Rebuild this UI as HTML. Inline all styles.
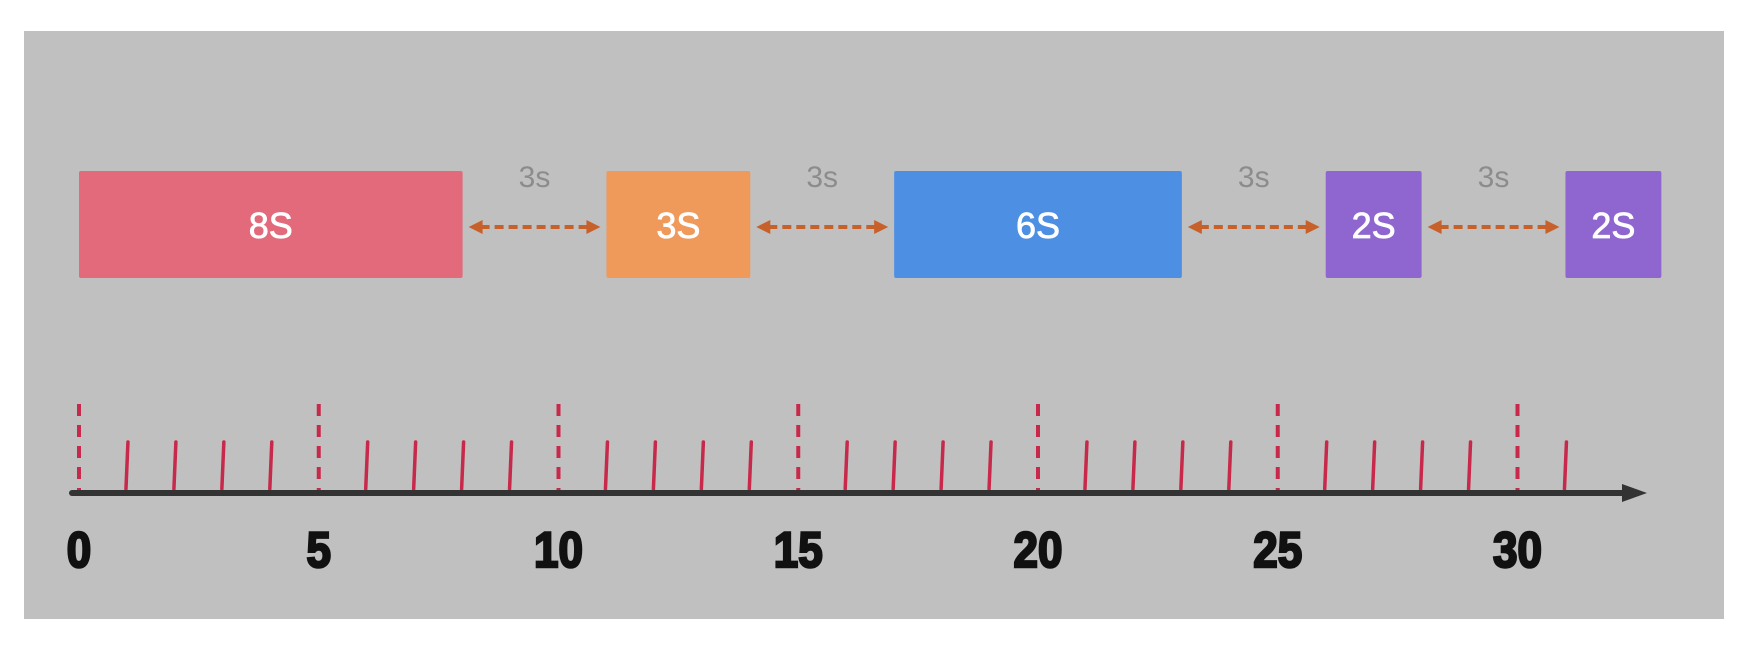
<!DOCTYPE html>
<html><head><meta charset="utf-8"><style>
html,body{margin:0;padding:0;background:#fff;width:1750px;height:646px;overflow:hidden}
svg{display:block}
</style></head><body>
<svg id="chart" width="1750" height="646" xmlns="http://www.w3.org/2000/svg">
<rect x="24" y="31" width="1700" height="588" fill="#c0c0c0"/>
<g id="bars"></g><g id="gaps"></g><g id="axis"></g>
</svg>
<script>
const taskStarts = [0, 11, 17, 26, 31];
const taskDurations = [8, 3, 6, 2, 2];
const taskLabels = ["8S", "3S", "6S", "2S", "2S"];
const taskColors = ["#e26a7b", "#ef995a", "#4c8fe3", "#8f66cf", "#8f66cf"];
const gapLabels = ["3s", "3s", "3s", "3s"];
const majorTicks = [0, 5, 10, 15, 20, 25, 30];
const maxTick = 31;

const NS = "http://www.w3.org/2000/svg";
const x = v => 79 + v * 47.95;
const axisY = 493;
function mk(tag, attrs, parent){const e=document.createElementNS(NS,tag);for(const k in attrs)e.setAttribute(k,attrs[k]);parent.appendChild(e);return e;}
const bars = document.getElementById('bars'), gaps = document.getElementById('gaps'), axis = document.getElementById('axis');

taskStarts.forEach((s,i)=>{
  const r = mk('rect',{x:x(s),y:171,width:x(s+taskDurations[i])-x(s),height:107,fill:taskColors[i],rx:2},bars);
  
  
  const t = mk('text',{x:(x(s)+x(s+taskDurations[i]))/2,y:238,'text-anchor':'middle','font-size':36,'font-family':'"Liberation Sans", sans-serif','fill':'#fff','stroke':'#fff','stroke-width':0.8},bars);
  t.textContent = taskLabels[i];
  
  
});

for(let i=0;i<taskStarts.length-1;i++){
  const a = x(taskStarts[i]+taskDurations[i])+6, b = x(taskStarts[i+1])-6, y=227;
  const g = mk('g',{},gaps);
  
  
  mk('line',{x1:a+12,y1:y,x2:b-12,y2:y,stroke:'#c8602a','stroke-width':4,'stroke-dasharray':'9 5'},g);
  mk('polygon',{points:`${a},${y} ${a+14},${y-7} ${a+14},${y+7}`,fill:'#c8602a'},g);
  mk('polygon',{points:`${b},${y} ${b-14},${y-7} ${b-14},${y+7}`,fill:'#c8602a'},g);
  const t = mk('text',{x:(a+b)/2,y:187,'text-anchor':'middle','font-size':30,'font-family':'"Liberation Sans", sans-serif',fill:'#8c8c8c'},gaps);
  t.textContent = gapLabels[i];
  
  
}

for(let v=0; v<=maxTick; v++){
  if(majorTicks.includes(v)) continue;
  const l = mk('line',{x1:x(v)+1,y1:442,x2:x(v)-1,y2:489,stroke:'#c8284a','stroke-width':3.5,'stroke-linecap':'round'},axis);
  
  
}
majorTicks.forEach(v=>{
  const l = mk('line',{x1:x(v),y1:404,x2:x(v),y2:493,stroke:'#c8284a','stroke-width':4,'stroke-dasharray':'12 9'},axis);
  
  
});
const al = mk('line',{x1:72,y1:axisY,x2:1625,y2:axisY,stroke:'#333','stroke-width':6,'stroke-linecap':'round'},axis);


const ah = mk('polygon',{points:`1647,${axisY} 1622,${axisY-9} 1622,${axisY+9}`,fill:'#333'},axis);


majorTicks.forEach(v=>{
  const t = mk('text',{x:x(v),y:567,'text-anchor':'middle','font-size':50,'font-weight':'bold','font-family':'"Liberation Sans Narrow","Liberation Sans", sans-serif',fill:'#111',stroke:'#111','stroke-width':2.5,transform:`translate(${x(v)},0) scale(0.88,1) translate(${-x(v)},0)`},axis);
  t.textContent = String(v);
  
  
});
</script>
</body></html>
